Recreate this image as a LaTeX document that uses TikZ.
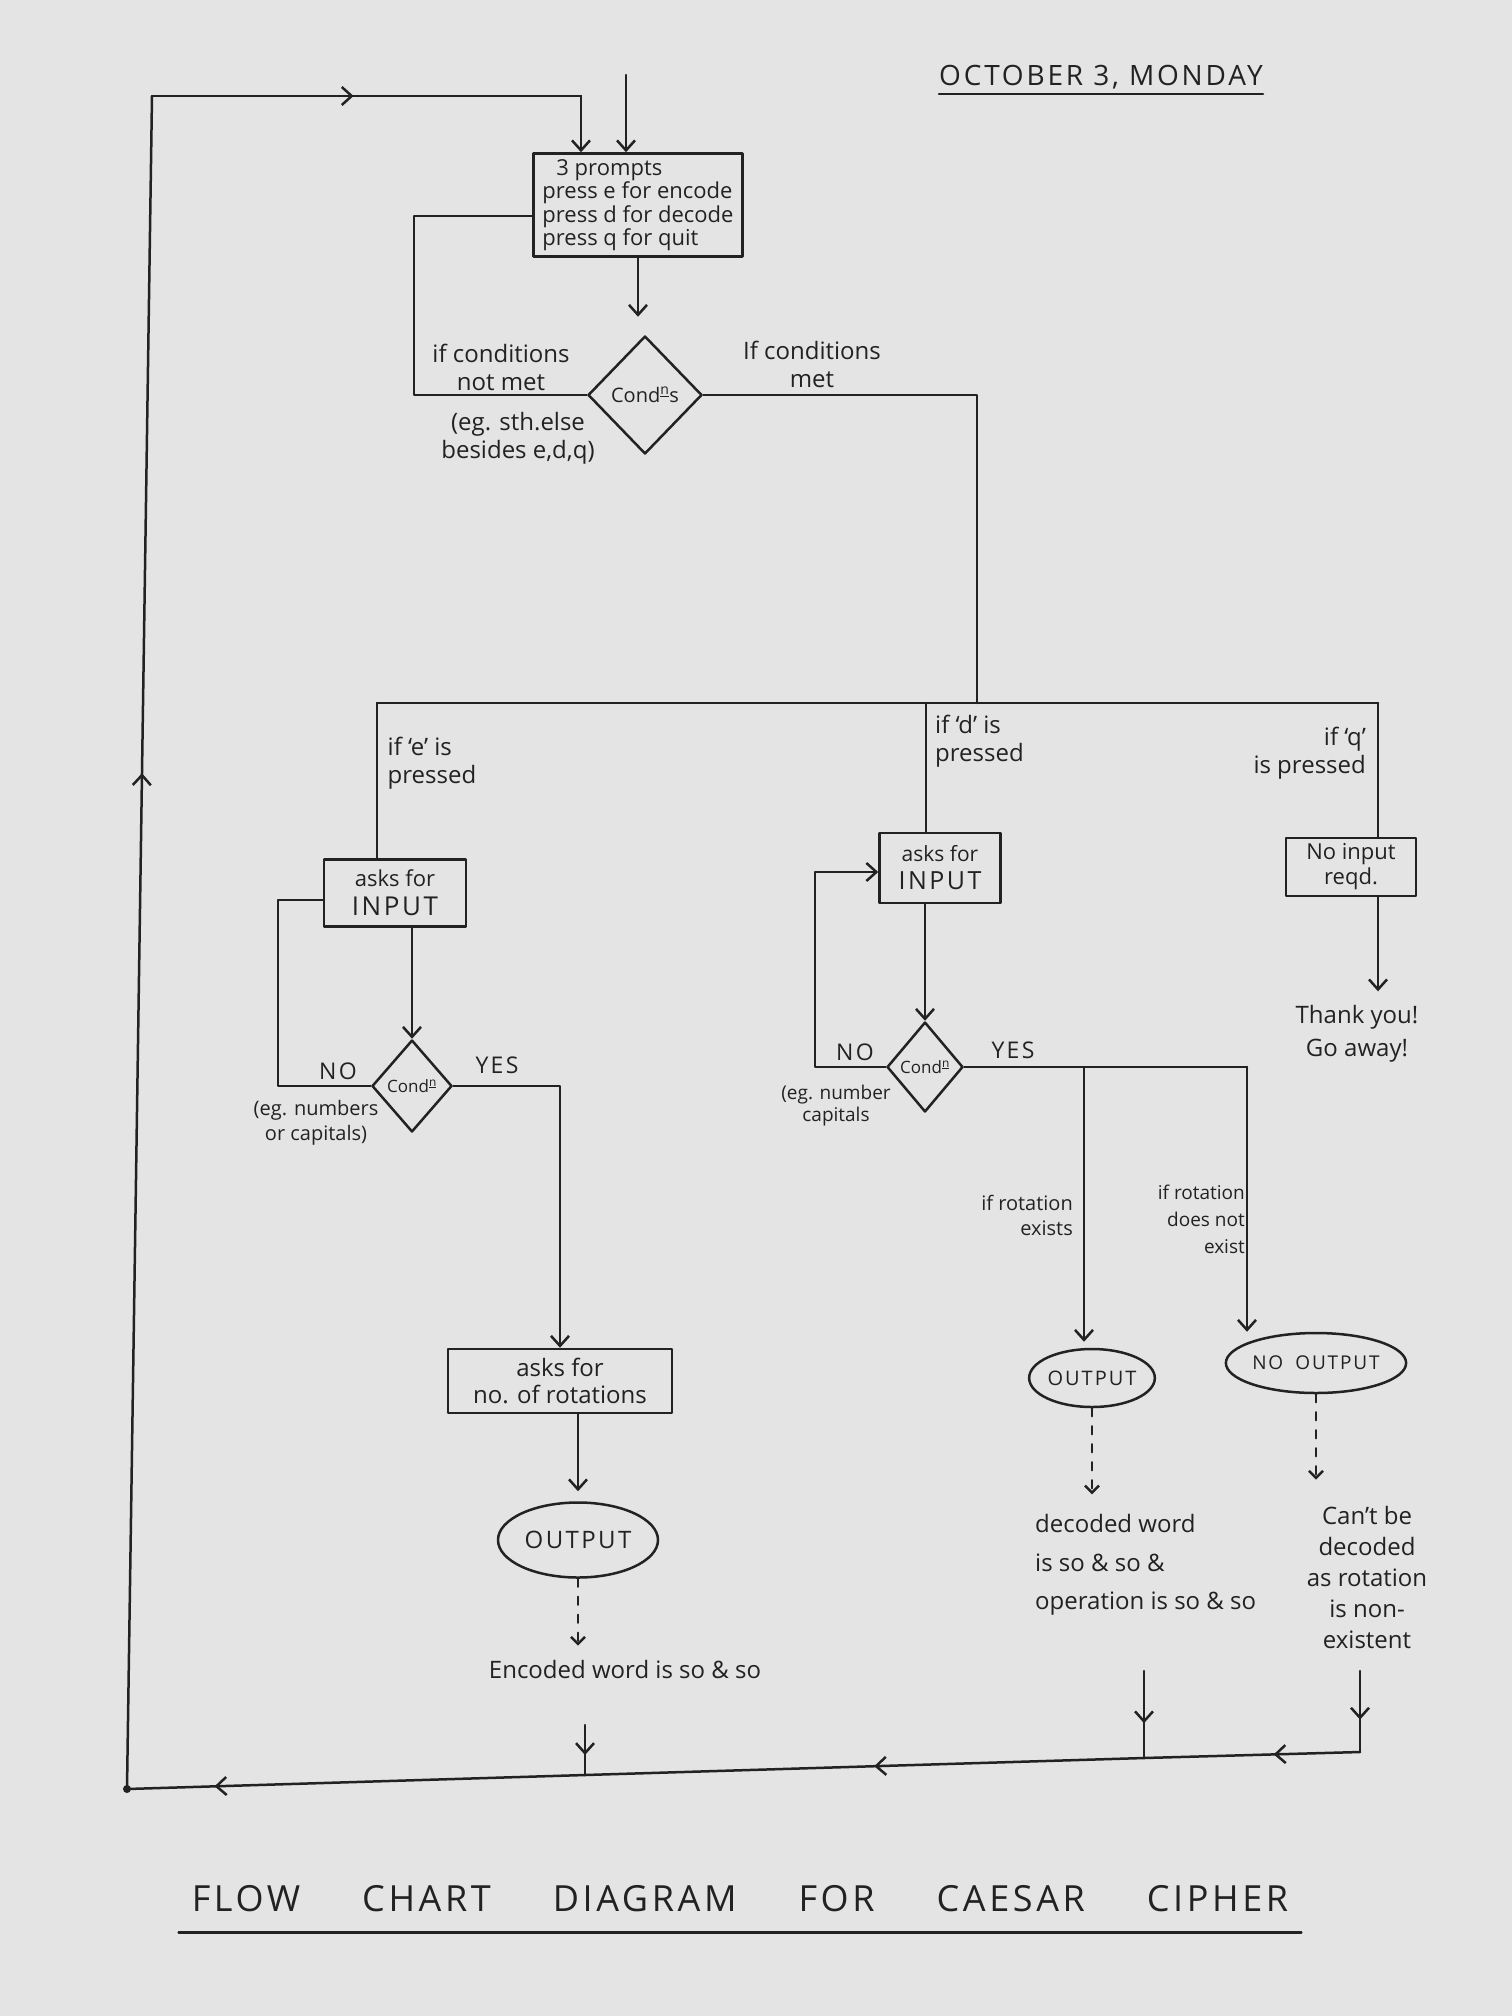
\documentclass[tikz,border=0pt]{standalone}
\usepackage{fontspec}
\setmainfont{Open Sans}
\newfontfamily\capsfont[LetterSpace=10]{Open Sans}
\usetikzlibrary{arrows.meta,shapes.geometric,decorations.markings}
\definecolor{paper}{RGB}{228,228,228}
\definecolor{ink}{RGB}{34,34,34}
\tikzset{
  >={Straight Barb[length=10pt,width=18pt,line width=2.5pt]},
  ln/.style={draw=ink,line width=2.5pt,line join=round,line cap=round},
  box/.style={ln,rectangle,inner sep=3pt,text=ink,align=center},
  dia/.style={ln,diamond,inner sep=0pt,text=ink,font=\fontsize{17}{19}\selectfont},
  oval/.style={ln,ellipse,inner sep=0pt,text=ink},
  lbl/.style={text=ink,inner sep=0pt,font=\fontsize{24}{28}\selectfont},
  small/.style={text=ink,inner sep=0pt,font=\fontsize{20}{25}\selectfont},
  capstxt/.style={text=ink,inner sep=0pt,font=\capsfont\fontsize{23}{26}\selectfont},
  midarr/.style={postaction={decorate,decoration={markings,mark=at position #1 with {\arrow{>}}}}},
  dashln/.style={ln,dash pattern=on 8pt off 10pt,-{Straight Barb[length=7pt,width=14pt,line width=2.5pt]}},
}
\begin{document}
\begin{tikzpicture}[x=1pt,y=-1pt]
\fill[paper] (0,0) rectangle (1512,2016);
\useasboundingbox (0,0) rectangle (1512,2016);

% date
\node[text=ink,inner sep=0pt,font=\capsfont\fontsize{28}{32}\selectfont] (date) at (1101,77) {OCTOBER 3, MONDAY};
\draw[ln] ([yshift=-5pt]date.south west) -- ([yshift=-5pt]date.south east);

% top prompt box
\node[box,minimum width=209pt,minimum height=103pt,align=left,font=\fontsize{22}{23.5}\selectfont] (prompts) at (638,205)
  {\hspace*{14pt}3 prompts\\press e for encode\\press d for decode\\press q for quit};
\coordinate (entry) at (626,75);
\draw[ln,->] (entry) -- (entry |- prompts.north);

% outer loop
\coordinate (tl) at (152,96);
\coordinate (tr) at (581,96);
\coordinate (bl) at (127,1789);
\draw[ln,midarr=0.6] (bl) -- (tl);
\draw[ln,midarr=0.47] (tl) -- (tr);
\draw[ln,->] (tr) -- (tr |- prompts.north);

% first condition
\node[dia,minimum width=114pt,minimum height=118pt,font=\fontsize{20}{22}\selectfont] (c1) at (645,395) {Cond\textsuperscript{\underline{n}}s};
\draw[ln,->,shorten >=18pt] (prompts.south) -- (prompts.south |- c1.north);
\coordinate (c1t) at (414,216);
\draw[ln] (c1.west) -| (c1t) -- (c1t -| prompts.west);
\node[lbl,align=center] (nm) at (501,367) {if conditions\\not met};
\node[lbl,align=center] (eg1) at (518,438) {(eg. sth.else\\besides e,d,q)};
\node[lbl,align=center] (cm) at (812,364) {If conditions\\met};

% branch line
\coordinate (br) at (977,703);
\coordinate (ebr) at (377,703);
\coordinate (dbr) at (926,703);
\coordinate (qbr) at (1378,703);
\draw[ln] (c1.east) -| (br);
\draw[ln] (ebr) -- (qbr);

% e branch
\node[box,minimum width=142pt,minimum height=67pt,font=\fontsize{22}{29}\selectfont] (eask) at (395,893)
  {asks for\\{\capsfont\fontsize{26}{29}\selectfont INPUT}};
\draw[ln] (ebr) -- (ebr |- eask.north);
\node[lbl,align=left] (epr) at (432,763) {if `e' is\\pressed};
\node[dia,minimum width=80pt,minimum height=92pt] (ec) at (412,1086) {Cond\textsuperscript{\underline{n}}};
\draw[ln,->] (ec.north |- eask.south) -- (ec.north);
\coordinate (elt) at (278,900);
\draw[ln] (ec.west) -| (elt) -- (elt -| eask.west);
\node[capstxt] (eno) at (338,1071) {NO};
\node[capstxt] (eyes) at (497,1065) {YES};
\node[small,align=center] (eg2) at (316,1123) {(eg. numbers\\or capitals)};
\node[box,minimum width=224pt,minimum height=64pt,font=\fontsize{24}{27}\selectfont] (rot) at (560,1381) {asks for\\no. of rotations};
\draw[ln,->] (ec.east) -| (rot.north);
\node[oval,minimum width=160pt,minimum height=75pt,font=\capsfont\fontsize{24}{28}\selectfont] (eout) at (578,1540) {OUTPUT};
\draw[ln,->,shorten >=10pt] (eout.north |- rot.south) -- (eout.north);
\node[lbl] (etext) at (625,1669) {Encoded word is so \& so};
\draw[dashln,shorten >=14pt] (eout.south) -- (eout.south |- etext.north);

% bottom return line
\coordinate (j3) at (1360,1752);
\coordinate (j2) at (1144,1758);
\coordinate (j1) at (585,1775);
\draw[ln,postaction={decorate,decoration={markings,
   mark=at position 0.07 with {\arrow{>}},
   mark=at position 0.394 with {\arrow{>}},
   mark=at position 0.929 with {\arrow{>}}}}]
  (j3) -- (j2) -- (j1) -- (bl);
\fill[ink] (bl) circle (4pt);
\coordinate (e2top) at (585,1725);
\draw[ln,midarr=0.6] (e2top) -- (j1);

% d branch
\node[box,minimum width=121pt,minimum height=70pt,font=\fontsize{21}{28}\selectfont] (dask) at (940,868)
  {asks for\\{\capsfont\fontsize{25}{28}\selectfont INPUT}};
\draw[ln] (dbr) -- (dbr |- dask.north);
\node[lbl,anchor=west,align=left] (dpr) at (935,741) {if `d' is\\pressed};
\node[dia,minimum width=76pt,minimum height=90pt] (dc) at (925,1067) {Cond\textsuperscript{\underline{n}}};
\draw[ln,->] (dc.north |- dask.south) -- (dc.north);
\coordinate (dlt) at (815,872);
\draw[ln,->] (dc.west) -| (dlt) -- (dlt -| dask.west);
\node[capstxt] (dno) at (855,1052) {NO};
\node[capstxt] (dyes) at (1013,1050) {YES};
\node[small,align=center,font=\fontsize{19}{22}\selectfont] (deg) at (836,1106) {(eg. number\\capitals};
\coordinate (ys1) at (1084,1067);
\coordinate (ys2) at (1247,1067);
\draw[ln] (dc.east) -- (ys2);
\node[oval,minimum width=123pt,minimum height=58pt,font=\capsfont\fontsize{20}{24}\selectfont] (dout) at (1092,1378) {OUTPUT};
\node[oval,minimum width=163pt,minimum height=60pt,font=\capsfont\fontsize{19}{24}\selectfont] (noout) at (1316,1363) {NO\hspace{12pt}OUTPUT};
\draw[ln,->,shorten >=6pt] (ys1) -- (ys1 |- dout.north);
\draw[ln,->] (ys2) -- (ys2 |- noout.north);
\node[small,anchor=east,align=right] (rex) at (1073,1215) {if rotation\\exists};
\node[small,anchor=east,align=right,font=\fontsize{19}{27}\selectfont] (rnx) at (1245,1219) {if rotation\\does not\\exist};
\node[lbl,anchor=west,align=left,font=\fontsize{24}{38.5}\selectfont] (dtext) at (1035,1565) {decoded word\\is so \& so \&\\operation is so \& so};
\draw[dashln,shorten >=20pt] (dout.south) -- (dout.south |- dtext.north);
\node[lbl,align=center,font=\fontsize{24}{31}\selectfont] (ntext) at (1367,1577) {Can't be\\decoded\\as rotation\\is non-\\existent};
\draw[dashln,shorten >=26pt] (noout.south) -- (noout.south |- ntext.north);
\coordinate (d2top) at (1144,1671);
\draw[ln,midarr=0.6] (d2top) -- (j2);
\coordinate (n2top) at (1360,1671);
\draw[ln,midarr=0.6] (n2top) -- (j3);

% q branch
\node[box,minimum width=130pt,minimum height=58pt,font=\fontsize{22}{25}\selectfont] (noinp) at (1351,867) {No input\\reqd.};
\draw[ln] (qbr) -- (qbr |- noinp.north);
\node[lbl,anchor=east,align=right] (qpr) at (1366,753) {if `q'\\is pressed};
\node[lbl,align=center,font=\fontsize{24}{33}\selectfont] (ty) at (1357,1034) {Thank you!\\Go away!};
\draw[ln,->,shorten >=14pt] (qbr |- noinp.south) -- (qbr |- ty.north);

% title
\node[text=ink,inner sep=0pt,font=\capsfont\fontsize{36}{40}\selectfont] (title) at (740,1899)
  {FLOW\hspace{62pt}CHART\hspace{62pt}DIAGRAM\hspace{62pt}FOR\hspace{62pt}CAESAR\hspace{62pt}CIPHER};
\draw[ln] ([xshift=-13pt,yshift=-20pt]title.south west) -- ([xshift=13pt,yshift=-20pt]title.south east);
\end{tikzpicture}
\end{document}
